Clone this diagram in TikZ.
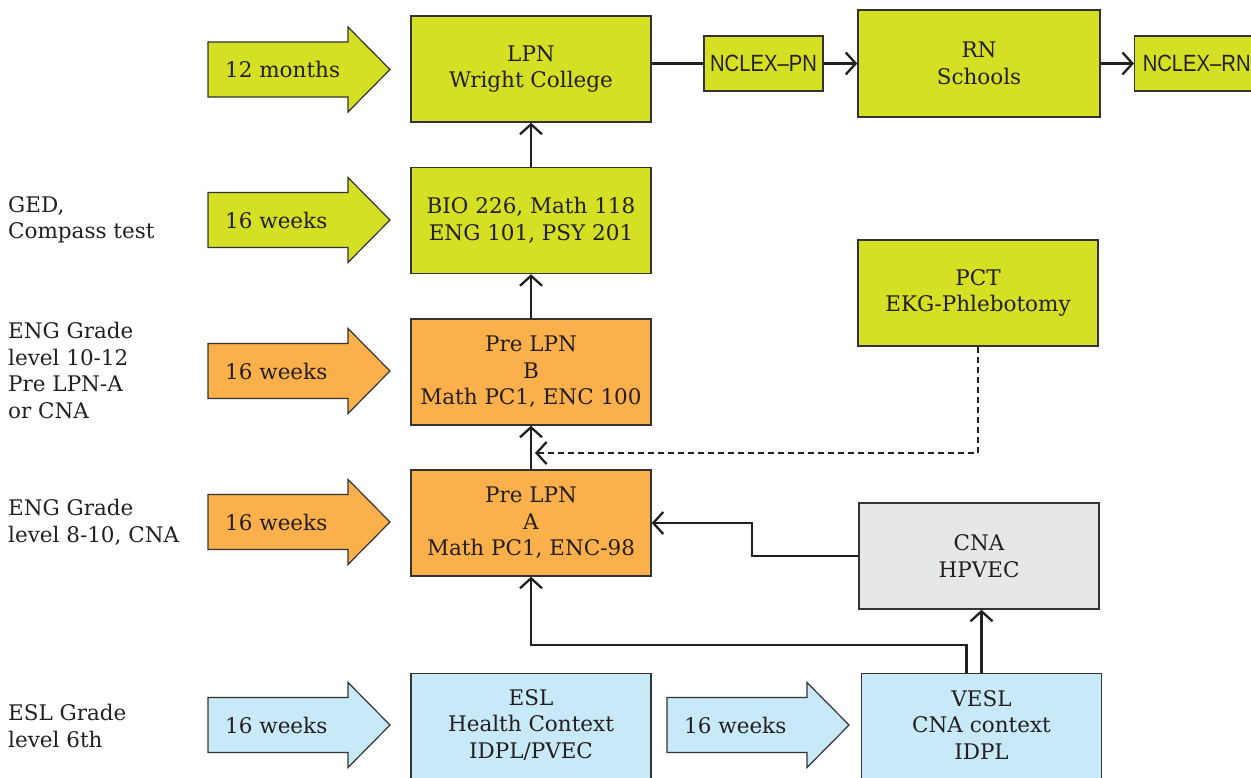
\documentclass[tikz,border=0pt]{standalone}
\usepackage{fontspec}
\setmainfont{DejaVu Serif}
\newfontfamily\narrowsans[FakeStretch=0.86,Ligatures=TeX]{Liberation Sans}
\usetikzlibrary{arrows.meta}
\definecolor{lime}{HTML}{D5DF23}
\definecolor{orng}{HTML}{FBB04B}
\definecolor{lgray}{HTML}{E6E7E8}
\definecolor{lblue}{HTML}{C8E9F8}
\definecolor{linec}{HTML}{333333}
\definecolor{txt}{HTML}{231F20}
\newcommand\bfs{\fontsize{21.5}{26.5}\selectfont}
\newcommand\nfs{\narrowsans\fontsize{23.5}{26}\selectfont}
\tikzset{
  box/.style={draw=linec, line width=1.4pt, inner sep=0pt, align=center, font=\bfs, text=txt,
              minimum width=240pt, minimum height=106pt},
  smallbox/.style={draw=linec, line width=1.4pt, inner sep=0pt, align=center, font=\nfs, text=txt,
              minimum height=55pt},
  lbl/.style={inner sep=0pt, font=\bfs, text=txt, align=left},
  arrowshape/.style={draw=linec, line width=1.2pt, line join=miter},
  conn/.style={draw=txt, line width=2.3pt, -{Straight Barb[length=10pt,width=22pt,line width=2.3pt]}},
  plain/.style={draw=txt, line width=2.3pt},
  dash line/.style={draw=txt, line width=2.3pt, dash pattern=on 6pt off 4pt}
}
\newcommand\fatarrow[5]{%
  \draw[arrowshape, fill=#4] (#2,#3-27.5) -- (#2+140,#3-27.5) -- (#2+140,#3-42.5)
    -- (#2+182,#3) -- (#2+140,#3+42.5) -- (#2+140,#3+27.5) -- (#2,#3+27.5) -- cycle;
  \node[lbl, anchor=west] (#1) at (#2+17,#3) {#5};}
\begin{document}
\begin{tikzpicture}[x=1pt,y=-1pt]
\useasboundingbox (0,0) rectangle (1251,777);
% boxes
\node[box, fill=lime] (lpn) at (531,69) {LPN\\Wright College};
\node[smallbox, fill=lime, minimum width=119pt] (nclexpn) at (763.5,63.5) {NCLEX--PN};
\node[box, fill=lime, minimum width=242pt, minimum height=107pt] (rn) at (979,63.5) {RN\\Schools};
\node[smallbox, fill=lime, minimum width=124pt, anchor=west] (nclexrn) at (1134,63.5) {NCLEX--RN};
\node[box, fill=lime] (bio) at (531,220.5) {BIO 226, Math 118\\ENG 101, PSY 201};
\node[box, fill=lime] (pct) at (978,293) {PCT\\EKG-Phlebotomy};
\node[box, fill=orng] (preb) at (531,372) {Pre LPN\\B\\Math PC1, ENC 100};
\node[box, fill=orng] (prea) at (531,523) {Pre LPN\\A\\Math PC1, ENC-98};
\node[box, fill=lgray] (cna) at (979,556) {CNA\\HPVEC};
\node[box, fill=lblue, anchor=north, minimum height=124pt] (esl) at (531,673) {};
\node[lbl, align=center] (esltext) at (531,725) {ESL\\Health Context\\IDPL/PVEC};
\node[box, fill=lblue, anchor=north, minimum height=124pt] (vesl) at (981.5,673) {};
\node[lbl, align=center] (vesltext) at (981.5,725) {VESL\\CNA context\\IDPL};
% fat arrows
\fatarrow{a1}{208}{69.5}{lime}{12 months}
\fatarrow{a2}{208}{220}{lime}{16 weeks}
\fatarrow{a3}{208}{371}{orng}{16 weeks}
\fatarrow{a4}{208}{522}{orng}{16 weeks}
\fatarrow{a5}{208}{725}{lblue}{16 weeks}
\fatarrow{a6}{667}{725}{lblue}{16 weeks}
% left labels
\node[lbl, anchor=west] (l1) at (8,220) {GED,\\Compass test};
\node[lbl, anchor=west] (l2) at (8,370.5) {ENG Grade\\level 10-12\\Pre LPN-A\\or CNA};
\node[lbl, anchor=west] (l3) at (8,522.5) {ENG Grade\\level 8-10, CNA};
\node[lbl, anchor=west] (l4) at (8,726) {ESL Grade\\level 6th};
% connectors
\draw[plain] (lpn.east |- nclexpn.west) -- (nclexpn.west);
\draw[conn] (nclexpn.east) -- (nclexpn.east -| rn.west);
\draw[conn] (rn.east |- nclexrn.west) -- (nclexrn.west);
\draw[conn] (bio.north) -- (lpn.south);
\draw[conn] (preb.north) -- (bio.south);
\draw[conn] (prea.north) -- (preb.south);
\coordinate (dashend) at (535,453);
\draw[dash line] (pct.south) -- (pct.south |- dashend) -- ([xshift=5pt]dashend);
\draw[conn] ([xshift=5pt]dashend) -- (dashend);
\draw[conn] (cna.west) -- ++(-106,0) |- (prea.east);
\coordinate (v1) at ([xshift=-15pt]vesl.north);
\draw[conn] (v1) -- ++(0,-28) -| (prea.south);
\draw[conn] (vesl.north) -- (vesl.north |- cna.south);
\end{tikzpicture}
\end{document}
